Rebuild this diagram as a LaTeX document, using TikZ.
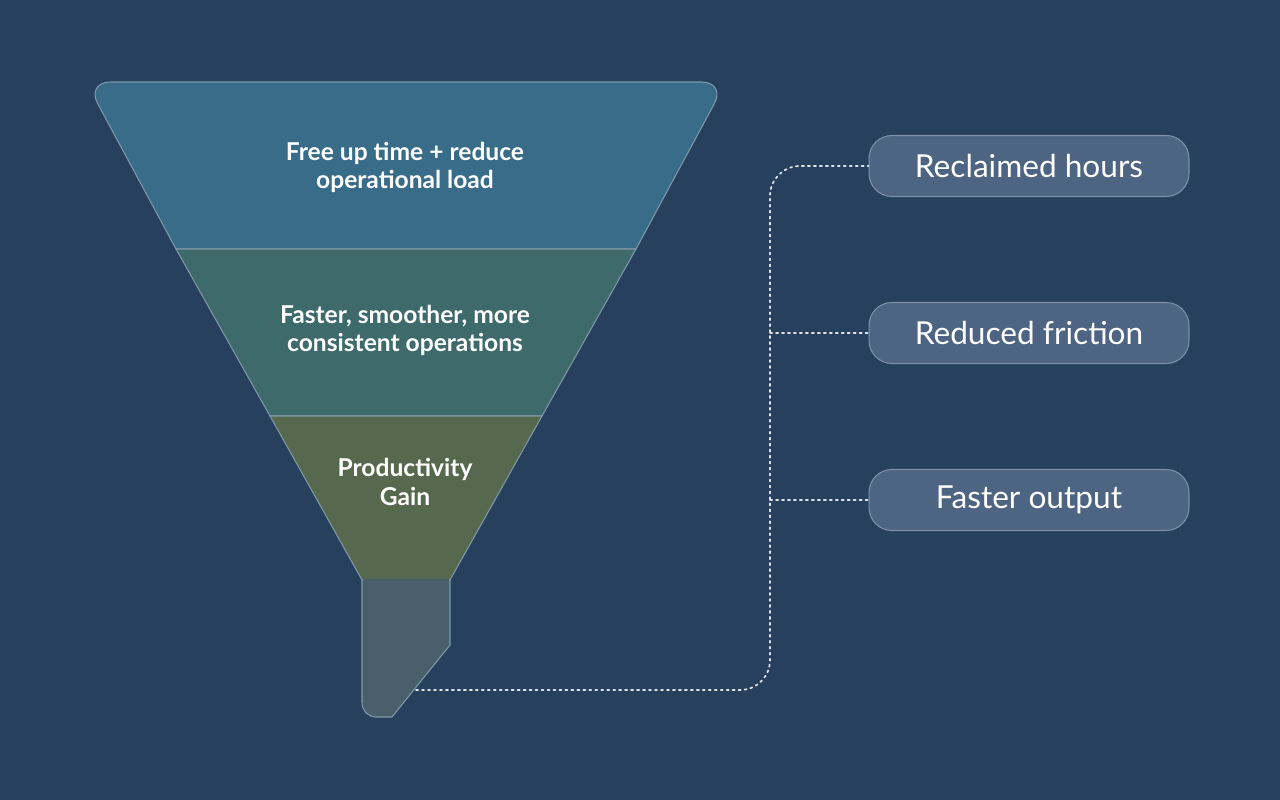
\documentclass[tikz,border=0pt]{standalone}
\usepackage{fontspec}
\setmainfont{Lato}
\usetikzlibrary{positioning}
\definecolor{bg}{HTML}{27405E}
\definecolor{bandtop}{HTML}{386C88}
\definecolor{bandmid}{HTML}{3E6A6C}
\definecolor{bandlow}{HTML}{56694E}
\definecolor{spout}{HTML}{4A5F6C}
\definecolor{edgecol}{HTML}{7F98A8}
\definecolor{boxfill}{HTML}{4D6482}
\definecolor{boxline}{HTML}{7C90A8}
\begin{document}
\begin{tikzpicture}[x=0.02cm,y=-0.02cm]
            \tikzstyle{band}=[draw=edgecol, line width=0.6pt]
            \tikzstyle{label}=[text=white, font=\fontsize{14}{16}\selectfont\bfseries, align=center]
            \tikzstyle{outcome}=[rectangle, rounded corners=13pt, fill=boxfill, draw=boxline, line width=0.6pt,
                                 minimum width=6.4cm, minimum height=1.22cm, text=white, font=\fontsize{18}{21}\selectfont]
            \tikzstyle{link}=[draw=white!85!bg, line width=1pt, dash pattern=on 1.2pt off 2.2pt, line cap=round]

            \fill[bg] (0,0) rectangle (1280,800);

            % Funnel bands, top to bottom
            \path[band, fill=bandtop] (176,249) {[rounded corners=14pt] -- (86,82) -- (726,82)} -- (636,249) -- cycle;
            \path[band, fill=bandmid] (176,249) -- (636,249) -- (542,416) -- (270,416) -- cycle;
            \path[band, fill=bandlow] (270,416) -- (542,416) -- (450,580) -- (362,580) -- cycle;
            \path[band, fill=spout] (362,580) -- (450,580) -- (450,645) -- (392,717) {[rounded corners=8pt] -- (362,717) -- (362,580)};
            \fill[spout] (363,579) rectangle (449,583);

            % Band labels
            \node[label] (TOP) at (405,167) {Free up time + reduce\\operational load};
            \node[label] (MID) at (405,330) {Faster, smoother, more\\consistent operations};
            \node[label] (LOW) at (405,482) {Productivity\\Gain};

            % Outcomes
            \node[outcome] (HOURS) at (1029,166) {Reclaimed hours};
            \node[outcome] (FRICTION) at (1029,333) {Reduced friction};
            \node[outcome] (OUTPUT) at (1029,500) {Faster output};

            % Connect the spout with every outcome
            \coordinate (SPOUT) at (416,690);
            \coordinate (TRUNK) at (770,333);
            \draw[link] (SPOUT) -- (740,690) to[out=0,in=-90] (770,660) -- (770,196) to[out=90,in=180] (800,166) -- (HOURS.west);
            \draw[link] (TRUNK) -- (FRICTION.west);
            \draw[link] (770,500) -- (OUTPUT.west);
\end{tikzpicture}
\end{document}
